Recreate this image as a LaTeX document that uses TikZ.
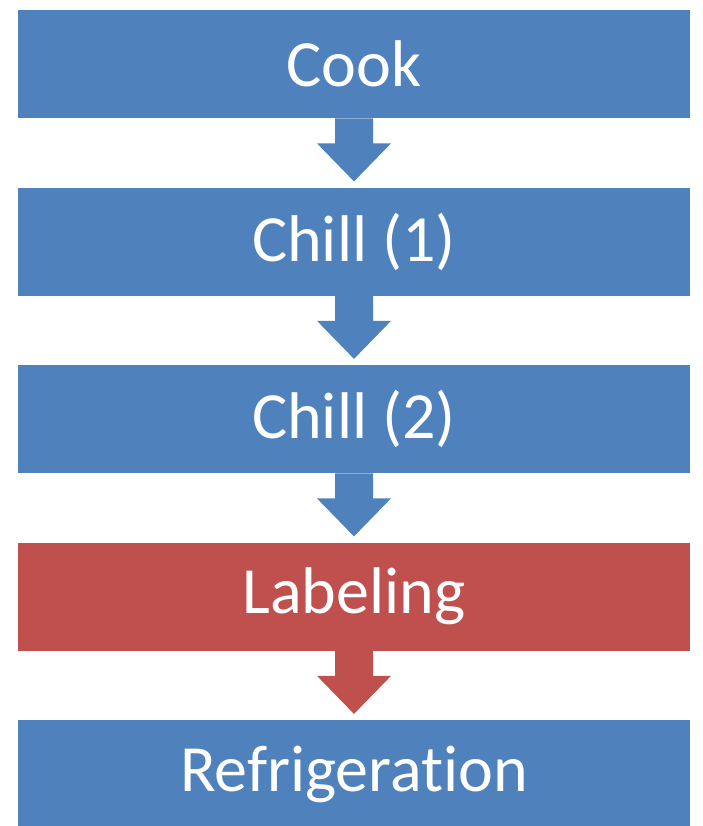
\documentclass[tikz,border=0pt]{standalone}
\usepackage{fontspec}
\setmainfont{Carlito}[Ligatures={NoCommon}]
\definecolor{boxblue}{RGB}{79,129,189}
\definecolor{boxred}{RGB}{192,80,77}
\tikzset{
  stepbox/.style={fill=#1, draw=none, minimum width=672pt, minimum height=108pt,
    inner sep=0pt, text=white, font=\fontsize{66}{70}\selectfont, anchor=north},
}
\newcommand{\blockarr}[3]{%
  \fill[#3] ([xshift=-19pt]#1.south) -- ([xshift=-19pt,yshift=-25pt]#1.south)
    -- ([xshift=-37pt,yshift=-25pt]#1.south) -- ([yshift=-63pt]#1.south)
    -- ([xshift=37pt,yshift=-25pt]#1.south) -- ([xshift=19pt,yshift=-25pt]#1.south)
    -- ([xshift=19pt]#1.south) -- cycle;}
\begin{document}
\begin{tikzpicture}[x=1pt,y=-1pt]
\useasboundingbox (0,0) rectangle (703,826);
\node[stepbox=boxblue] (cook) at (354,10) {Cook};
\node[stepbox=boxblue] (chill1) at (354,187.5) {Chill (1)};
\node[stepbox=boxblue] (chill2) at (354,365) {Chill (2)};
\node[stepbox=boxred] (label) at (354,542.5) {Labeling};
\node[stepbox=boxblue] (refr) at (354,720) {Refrigeration};
\blockarr{cook}{chill1}{boxblue}
\blockarr{chill1}{chill2}{boxblue}
\blockarr{chill2}{label}{boxblue}
\blockarr{label}{refr}{boxred}
\end{tikzpicture}
\end{document}
